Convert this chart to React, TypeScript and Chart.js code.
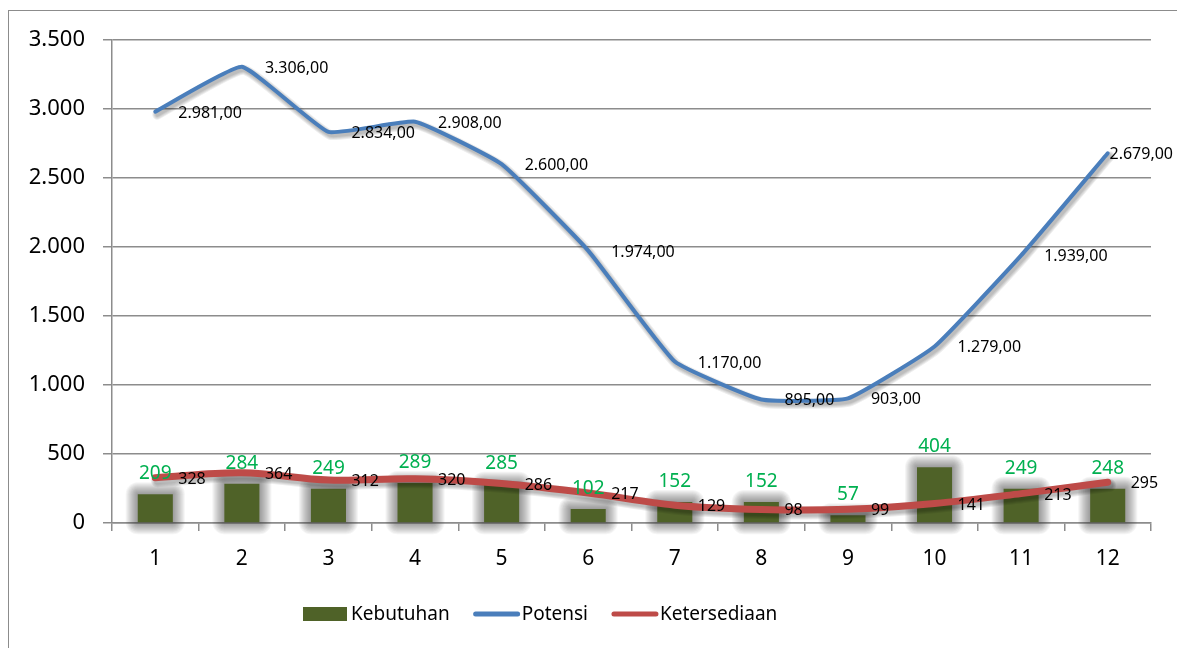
import React, { useEffect, useRef } from 'react';
import { Chart, registerables } from 'chart.js';

Chart.register(...registerables);

const categories = ['1', '2', '3', '4', '5', '6', '7', '8', '9', '10', '11', '12'];
const kebutuhan = [209, 284, 249, 289, 285, 102, 152, 152, 57, 404, 249, 248];
const potensi = [2981, 3306, 2834, 2908, 2600, 1974, 1170, 895, 903, 1279, 1939, 2679];
const ketersediaan = [328, 364, 312, 320, 286, 217, 129, 98, 99, 141, 213, 295];
const seriesNames = ['Kebutuhan', 'Potensi', 'Ketersediaan'];

const FONT = "'Noto Sans', sans-serif";
const C_BAR = '#4F6228';
const C_BLUE = '#4A7EBB';
const C_RED = '#BE4B48';
const C_GREEN = '#00B050';
const C_GRID = '#8C8C8C';

function fmtThousands(n: number): string {
  return String(Math.trunc(n)).replace(/\B(?=(\d{3})+(?!\d))/g, '.');
}
function fmtDec(n: number): string {
  const frac = n.toFixed(2).split('.')[1];
  return fmtThousands(n) + ',' + frac;
}

const borderPlugin = {
  id: 'outerBorder',
  beforeDraw(chart: any) {
    const ctx = chart.ctx;
    ctx.save();
    ctx.fillStyle = '#fff';
    ctx.fillRect(0, 0, chart.width, chart.height);
    ctx.strokeStyle = '#8C8C8C';
    ctx.lineWidth = 1;
    ctx.strokeRect(8.5, 10.5, chart.width + 20, chart.height + 20);
    ctx.restore();
  },
};

function tracePath(ctx: any, pts: any[]) {
  ctx.beginPath();
  pts.forEach((p: any, i: number) => {
    if (i === 0) ctx.moveTo(p.x, p.y);
    else {
      const prev = pts[i - 1];
      ctx.bezierCurveTo(prev.cp2x, prev.cp2y, p.cp1x, p.cp1y, p.x, p.y);
    }
  });
}

// soft glow behind bars and soft drop shadows under lines, built from layered strokes
const glowPlugin = {
  id: 'softShadows',
  beforeDatasetDraw(chart: any, args: any) {
    const ctx = chart.ctx;
    const meta = args.meta;
    ctx.save();
    if (meta.type === 'bar') {
      ctx.fillStyle = 'rgba(60,60,60,0.05)';
      meta.data.forEach((el: any) => {
        const left = el.x - el.width / 2;
        const top = el.y;
        const w = el.width;
        const h = el.base - el.y;
        for (let k = 12; k >= 1; k--) {
          ctx.beginPath();
          ctx.roundRect(left - k, top - k, w + 2 * k, h + 2 * k, k);
          ctx.fill();
        }
      });
    } else if (meta.type === 'line') {
      const pts = meta.dataset.points;
      const bw = meta.dataset.options.borderWidth;
      ctx.translate(2, 3);
      ctx.lineCap = 'round';
      ctx.lineJoin = 'round';
      ctx.strokeStyle = 'rgba(0,0,0,0.07)';
      [bw + 6, bw + 4, bw + 2, bw].forEach((lw: number) => {
        ctx.lineWidth = lw;
        tracePath(ctx, pts);
        ctx.stroke();
      });
    }
    ctx.restore();
  },
};

const labelPlugin = {
  id: 'valueLabels',
  afterDatasetsDraw(chart: any) {
    const ctx = chart.ctx;
    ctx.save();
    ctx.font = `19px ${FONT}`;
    ctx.fillStyle = C_GREEN;
    ctx.textAlign = 'center';
    ctx.textBaseline = 'alphabetic';
    chart.getDatasetMeta(0).data.forEach((el: any, i: number) => {
      ctx.fillText(String(kebutuhan[i]), el.x, el.y - 15);
    });
    ctx.font = `16px ${FONT}`;
    ctx.fillStyle = '#000';
    ctx.textAlign = 'left';
    const drawRight = (metaIndex: number, texts: string[]) => {
      chart.getDatasetMeta(metaIndex).data.forEach((el: any, i: number) => {
        const t = texts[i];
        const w = ctx.measureText(t).width;
        let x = el.x + 23;
        if (x + w > chart.width - 4) x = chart.width - 4 - w;
        ctx.fillText(t, x, el.y + 6);
      });
    };
    drawRight(1, potensi.map(fmtDec));
    drawRight(2, ketersediaan.map((v) => String(v)));
    ctx.restore();
  },
};

const legendPlugin = {
  id: 'customLegend',
  afterDraw(chart: any) {
    const ctx = chart.ctx;
    ctx.save();
    ctx.font = `19px ${FONT}`;
    ctx.textBaseline = 'middle';
    ctx.textAlign = 'left';
    const cy = 614;
    let x = 303;
    seriesNames.forEach((name, i) => {
      if (i === 0) {
        ctx.fillStyle = C_BAR;
        ctx.fillRect(x, cy - 7, 44, 14);
      } else {
        ctx.strokeStyle = i === 1 ? C_BLUE : C_RED;
        ctx.lineWidth = 5;
        ctx.lineCap = 'round';
        ctx.beginPath();
        ctx.moveTo(x + 2, cy);
        ctx.lineTo(x + 44, cy);
        ctx.stroke();
      }
      x += 48;
      ctx.fillStyle = '#000';
      ctx.fillText(name, x, cy + 1);
      x += ctx.measureText(name).width + 24;
    });
    ctx.restore();
  },
};

export default function App() {
  const ref = useRef<HTMLCanvasElement | null>(null);

  useEffect(() => {
    if (!ref.current) return;
    const chart = new Chart(ref.current, {
      type: 'bar',
      data: {
        labels: categories,
        datasets: [
          {
            type: 'bar',
            label: seriesNames[0],
            data: kebutuhan,
            backgroundColor: C_BAR,
            borderWidth: 0,
            categoryPercentage: 1,
            barPercentage: 0.405,
            order: 3,
          } as any,
          {
            type: 'line',
            label: seriesNames[1],
            data: potensi,
            borderColor: C_BLUE,
            borderWidth: 4,
            pointRadius: 0,
            tension: 0.12,
            borderCapStyle: 'round',
            borderJoinStyle: 'round',
            order: 1,
          } as any,
          {
            type: 'line',
            label: seriesNames[2],
            data: ketersediaan,
            borderColor: C_RED,
            borderWidth: 7,
            pointRadius: 0,
            tension: 0.35,
            borderCapStyle: 'round',
            borderJoinStyle: 'round',
            order: 2,
          } as any,
        ],
      },
      options: {
        responsive: false,
        animation: false,
        devicePixelRatio: 1,
        layout: { padding: { top: 40, right: 26, left: 0, bottom: 0 } },
        plugins: {
          legend: { display: false },
          tooltip: { enabled: false },
        },
        scales: {
          x: {
            offset: true,
            grid: {
              display: true,
              drawOnChartArea: false,
              drawTicks: true,
              tickLength: 8,
              color: C_GRID,
              lineWidth: 1.5,
              offset: true,
            },
            border: { display: true, color: C_GRID, width: 1.5 },
            ticks: {
              font: { family: FONT, size: 21 },
              color: '#000',
              padding: 15,
              maxRotation: 0,
            },
            afterFit(scale: any) {
              scale.height = 125;
            },
          },
          y: {
            min: 0,
            max: 3500,
            grid: {
              color: C_GRID,
              lineWidth: 1.5,
              drawTicks: true,
              tickLength: 9,
            },
            border: { display: true, color: C_GRID, width: 1.5 },
            ticks: {
              stepSize: 500,
              font: { family: FONT, size: 22 },
              color: '#000',
              padding: 18,
              callback: (v: any) => fmtThousands(Number(v)),
            },
            afterFit(scale: any) {
              scale.width = 112;
            },
          },
        },
      },
      plugins: [borderPlugin, glowPlugin, labelPlugin, legendPlugin],
    });
    return () => chart.destroy();
  }, []);

  return (
    <div style={{ position: 'fixed', left: 0, top: 0, width: 1177, height: 648, background: '#fff' }}>
      <canvas ref={ref} width={1177} height={648} style={{ display: 'block', width: 1177, height: 648 }} />
    </div>
  );
}
